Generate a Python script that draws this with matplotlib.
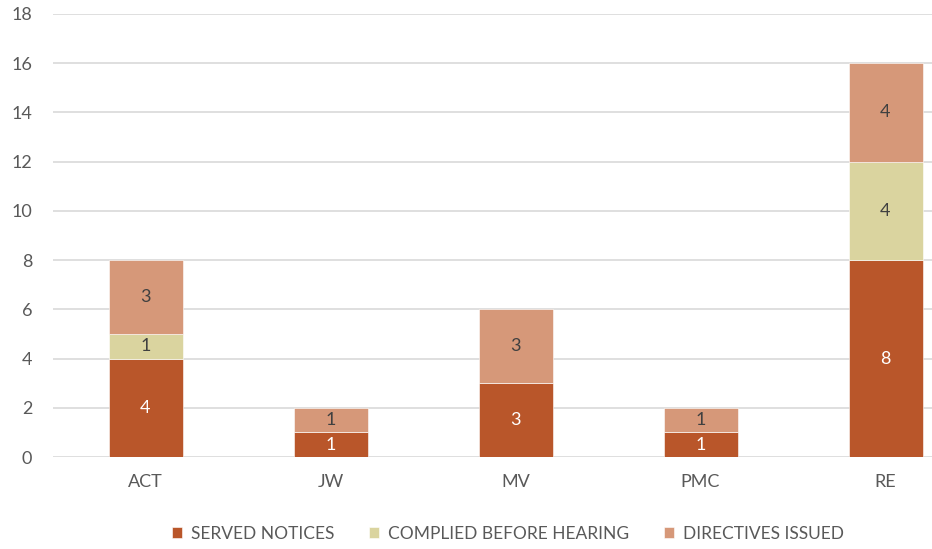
import matplotlib
matplotlib.use("Agg")
import matplotlib.pyplot as plt
import numpy as np

categories = ["ACT", "JW", "MV", "PMC", "RE"]
served_notices = [4, 1, 3, 1, 8]
complied_before_hearing = [1, 0, 0, 0, 4]
directives_issued = [3, 1, 3, 1, 4]
series_names = ["SERVED NOTICES", "COMPLIED BEFORE HEARING", "DIRECTIVES ISSUED"]
y_ticks = [0, 2, 4, 6, 8, 10, 12, 14, 16, 18]

colors = ["#B9562A", "#DAD49F", "#D69879"]
label_colors = ["white", "#404040", "#404040"]

plt.rcParams["font.family"] = ["Lato", "DejaVu Sans"]

fig = plt.figure(figsize=(9.32, 5.49), dpi=100)
ax = fig.add_axes([53 / 932, 92 / 549, 925 / 932, 443 / 549])

x = np.arange(len(categories))
bottom = np.zeros(len(categories))
for vals, name, col, lcol in zip(
    [served_notices, complied_before_hearing, directives_issued],
    series_names, colors, label_colors):
    vals = np.array(vals, dtype=float)
    ax.bar(x, vals, 0.4, bottom=bottom, color=col, label=name,
           edgecolor="white", linewidth=0.4, zorder=3)
    for xi, v, b in zip(x, vals, bottom):
        if v > 0:
            ax.text(xi, b + v / 2, f"{int(v)}", ha="center", va="center",
                    fontsize=13, color=lcol, zorder=4)
    bottom += vals

ax.set_xlim(-0.5, len(categories) - 0.5)
ax.set_ylim(0, 18)
ax.set_yticks(y_ticks)
ax.set_xticks(x)
ax.set_xticklabels(categories)
ax.tick_params(axis="both", length=0, labelsize=13, colors="#595959")
ax.tick_params(axis="x", pad=12)
ax.tick_params(axis="y", pad=15)
ax.grid(axis="y", color="#D9D9D9", linewidth=1.2, zorder=0)
for s in ax.spines.values():
    s.set_visible(False)

leg = fig.legend(loc="center", bbox_to_anchor=(508 / 932, 1 - 534 / 549), ncol=3,
                 frameon=False, fontsize=12.5, handlelength=0.6, handleheight=0.6,
                 handletextpad=0.5, columnspacing=2.0)
for t in leg.get_texts():
    t.set_color("#595959")

fig.savefig("out.png", dpi=100)
